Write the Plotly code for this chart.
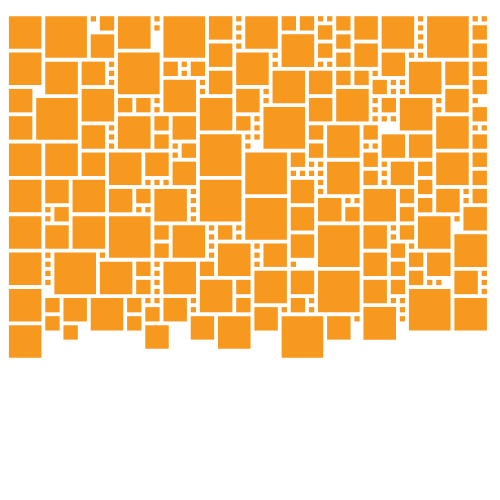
import plotly.graph_objects as go

# square sizes (in grid units), in placement order
SIZES = [int(c) for c in (
    "4512415314221123415121324113251412311423112143112413211"
    "3142131221411234113251413122141131241152314213211411321"
    "4125131421113214112341521312413221141321141231142153121"
    "3211411423152131241113214211325143121415231142131121413"
    "2141531241131214211432151231412213241152131421113241213"
    "1421131421532141123"
)]
COLOR = "#F7991F"
W = 53          # columns of the grid
GAP = 0.42      # gap in units

sky = [0] * W
shapes = []
for s in SIZES:
    best = None
    for x in range(W - s + 1):
        h = max(sky[x:x + s])
        if best is None or h < best[0]:
            best = (h, x)
    h, x = best
    for i in range(x, x + s):
        sky[i] = h + s
    shapes.append(dict(type="rect", xref="x", yref="y", x0=x, x1=x + s - GAP,
                       y0=h, y1=h + s - GAP, fillcolor=COLOR, line_width=0))

fig = go.Figure(go.Scatter(x=[0], y=[0], mode="markers", marker_opacity=0,
                           hoverinfo="skip", showlegend=False))
fig.update_layout(width=500, height=500, margin=dict(l=0, r=0, t=0, b=0),
                  plot_bgcolor="white", paper_bgcolor="white", shapes=shapes)
fig.update_xaxes(range=[-0.1, 54.9], visible=False)
fig.update_yaxes(range=[54.1, -0.9], visible=False)
fig.write_html("out.html")
